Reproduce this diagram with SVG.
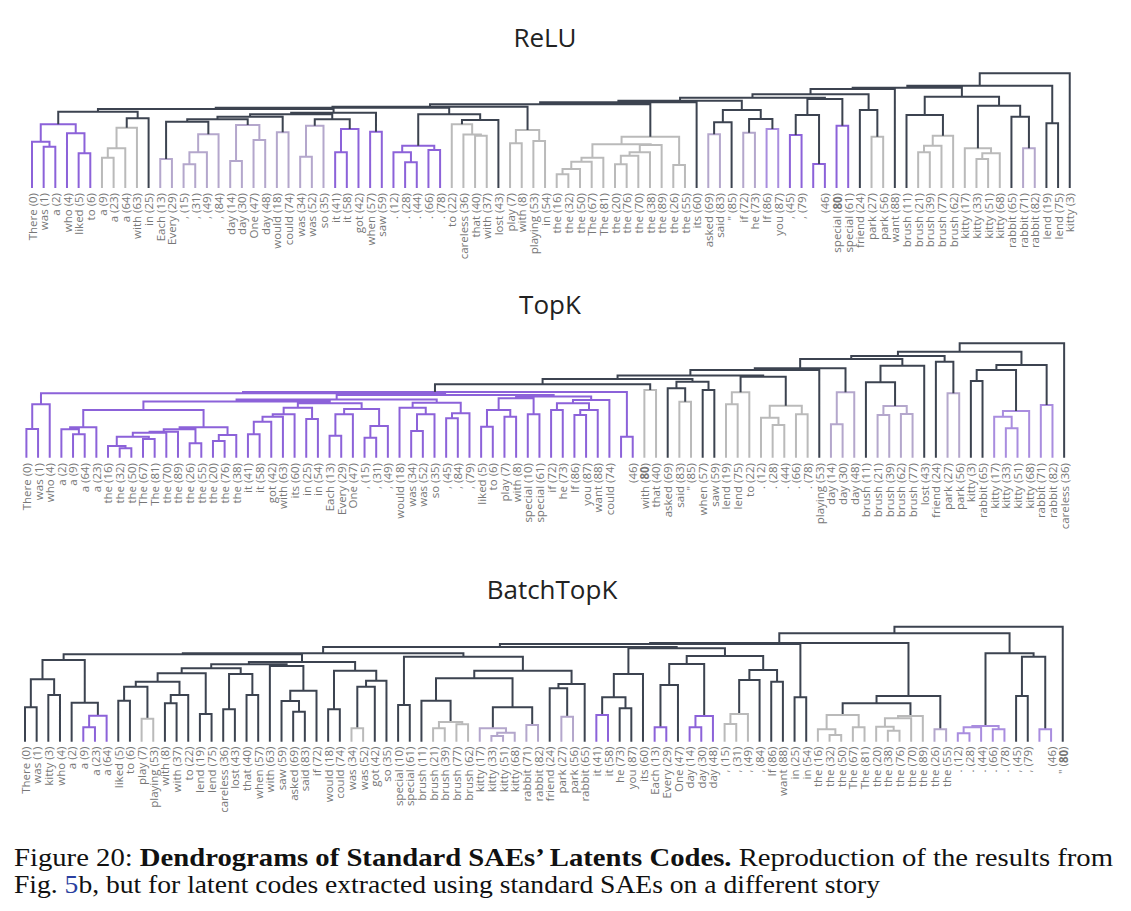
<svg xmlns="http://www.w3.org/2000/svg" width="1131" height="911" viewBox="0 0 1131 911">
<style>
.lb{font-family:"Open Sans",sans-serif;font-size:11.5px;fill:#767676;text-anchor:end;dominant-baseline:central}
.tt{font-family:"Open Sans",sans-serif;font-size:26px;font-weight:500;fill:#222;text-anchor:middle}
.cap{font-family:"Liberation Serif","Times New Roman",serif;font-size:25px;fill:#111}
path{fill:none;stroke-width:2}
.D{stroke:#3c4350}.P{stroke:#8c62d9}.P2{stroke:#a98ddf}.LP{stroke:#b4a7cc}.G{stroke:#bababa}
</style>
<rect width="1131" height="911" fill="#fff"/>
<text class="tt" x="545" y="47">ReLU</text>
<text class="tt" x="550" y="314">TopK</text>
<text class="tt" x="552" y="599">BatchTopK</text>

<g id="connectors">
<g id="relu-tree" transform="translate(32,0) scale(11.66,1)">
<path vector-effect="non-scaling-stroke" class="P" d="M1 188V146.7H2V188M0 188V141.7H1.5V146.7M4 188V153.3H5V188M3 188V133.3H4.5V153.3M0.75 141.7V124.3H3.75V133.3M26 188V152.3H27V188M26.5 152.3V129H28V188M29 188V131.7H30V188M32 188V162.3H33V188M31 188V152.3H32.5V162.3M34 188V150H35V188M31.75 152.3V145.7H34.5V150M65 188V135H66V188M67 188V164H68V188M69 188V125.7H70V188"/>
<path vector-effect="non-scaling-stroke" class="P2" d="M63 188V129H64V188"/>
<path vector-effect="non-scaling-stroke" class="LP" d="M11 188V159H12V188M13 188V164.3H14V188M13.5 164.3V152.3H15V188M14.25 152.3V134.3H16V188M17 188V161H18V188M19 188V140H20V188M17.5 161V125H19.5V140M21 188V132.3H22V188M23 188V156.7H24V188M23.5 156.7V125.7H25V188M58 188V134.3H59V188M61 188V132.7H62V188M85 188V148.3H86V188"/>
<path vector-effect="non-scaling-stroke" class="G" d="M6 188V157.7H7V188M6.5 157.7V148.3H8V188M7.25 148.3V127.7H9V188M38 188V135.7H39V188M37 188V134.5H38.5V135.7M36 188V124.3H37.75V134.5M41 188V143.3H42V188M43 188V141H44V188M41.5 143.3V130H43.5V141M45 188V174.3H46V188M45.5 174.3V169H47V188M46.25 169V161.7H48V188M47.125 161.7V157.7H49V188M50 188V164.3H51V188M50.5 164.3V155.7H52V188M51.25 155.7V152.3H53V188M52.125 152.3V145H54V188M48.0625 157.7V144.3H53.0625V145M55 188V165H56V188M50.5625 144.3V136.7H55.5V165M72 188V136.7H73V188M76 188V152.3H77V188M76.5 152.3V145.7H78V188M77.25 145.7V135.7H79V188M81 188V159H82V188M81.5 159V153.3H83V188M80 188V148.3H82.25V153.3"/>
<path vector-effect="non-scaling-stroke" class="D" d="M8.125 127.7V118.3H10V188M2.25 124.3V111.7H9.0625V118.3M11.5 159V121.7H15.125V134.3M13.3125 121.7V119.3H18.5V125M15.906 119.3V116.7H21.5V132.3M24.25 125.7V119.3H27.25V129M36.875 124.3V120H40V188M33.125 145.7V114.3H38.4375V120M58.5 134.3V122.3H60V188M61.5 132.7V119H63.5V129M59.25 122.3V110H62.5V119M65.5 135V115H67.5V164M71 188V110H72.5V136.7M75 188V115H78.125V135.7M84 188V116.7H85.5V148.3M81.125 148.3V105.7H84.75V116.7M76.5625 115V96.7H82.9375V105.7M87 188V123.3H88V188M18.703 116.7V114.3H25.75V119.3M22.227 114.3V112.7H29.5V131.7M5.656 111.7V109H25.863V112.7M15.76 109V107.7H35.78V114.3M25.77 107.7V106.7H42.5V130M34.135 106.7V104.3H53.03V136.7M43.58 104.3V102.3H57V188M50.29 102.3V100.7H60.875V110M66.5 115V99H69.5V125.7M55.58 100.7V97.7H68V99M61.79 97.7V94.3H71.75V110M66.77 94.3V89H74V188M70.385 89V87.7H79.75V96.7M75.07 87.7V85.7H87.5V123.3M81.28 85.7V73.3H89V188"/>
</g>

<g id="topk-tree" transform="translate(26.4,0) scale(11.66,1)">
<path vector-effect="non-scaling-stroke" class="P" d="M0 457.7V429H1V457.7M0.5 429V404.3H2V457.7M4 457.7V434.3H5V457.7M3 457.7V429.3H4.5V434.3M3.75 429.3V427.3H6V457.7M8 457.7V448.3H9V457.7M7 457.7V446H8.5V448.3M10 457.7V439H11V457.7M7.75 446V436.7H10.5V439M9.125 436.7V432.7H12V457.7M10.5625 432.7V431.7H13V457.7M14 457.7V443.3H15V457.7M11.78 431.7V429.3H14.5V443.3M16 457.7V441H17V457.7M16.5 441V435H18V457.7M13.14 429.3V427.3H17.25V435M4.875 427.3V410H15.195V427.3M19 457.7V434.3H20V457.7M19.5 434.3V421.7H21V457.7M20.25 421.7V416.7H22V457.7M21.125 416.7V414.3H23V457.7M24 457.7V419H25V457.7M22.0625 414.3V407.7H24.5V419M26 457.7V435.7H27V457.7M26.5 435.7V414.3H28V457.7M29 457.7V437.7H30V457.7M29.5 437.7V426H31V457.7M27.25 414.3V409H30.25V426M23.28 407.7V403.3H28.75V409M33 457.7V431H34V457.7M33.5 431V414.3H35V457.7M32 457.7V407.7H34.25V414.3M36 457.7V418.3H37V457.7M36.5 418.3V413.3H38V457.7M33.125 407.7V402.7H37.25V413.3M39 457.7V426.7H40V457.7M41 457.7V416.7H42V457.7M39.5 426.7V410H41.5V416.7M43 457.7V414.3H44V457.7M40.5 410V398.3H43.5V414.3M45 457.7V410H46V457.7M47 457.7V415H48V457.7M47.5 415V410H49V457.7M45.5 410V403.3H48.25V410M46.875 403.3V400H50V457.7M51 457.7V436.7H52V457.7M10.035 410V401.5H26.015V403.3M18.025 401.5V399.5H35.19V402.7M42 398.3V396.5H48.4375V400M26.61 399.5V395H45.22V396.5M1.25 404.3V393.3H35.91V395M18.58 393.3V392H51.5V436.7"/>
<path vector-effect="non-scaling-stroke" class="G" d="M53 457.7V390H54V457.7M56 457.7V401.7H57V457.7M60 457.7V404.3H61V457.7M60.5 404.3V392.3H62V457.7M64 457.7V425H65V457.7M63 457.7V417.7H64.5V425M66 457.7V414.3H67V457.7M63.75 417.7V405.7H66.5V414.3"/>
<path vector-effect="non-scaling-stroke" class="LP" d="M69 457.7V424.3H70V457.7M69.5 424.3V392.3H71V457.7M73 457.7V415H74V457.7M75 457.7V414H76V457.7M73.5 415V406H75.5V414M79 457.7V393.3H80V457.7"/>
<path vector-effect="non-scaling-stroke" class="P2" d="M84 457.7V428.3H85V457.7M83 457.7V416.7H84.5V428.3M83.75 416.7V411H86V457.7M87 457.7V405H88V457.7"/>
<path vector-effect="non-scaling-stroke" class="D" d="M55 457.7V388.3H56.5V401.7M58 457.7V390H59V457.7M55.75 388.3V381.7H58.5V390M35.04 392V384.3H53.5V390M44.27 384.3V379H57.125V381.7M61.25 392.3V376.7H65.125V405.7M50.7 379V375.5H63.19V376.7M56.945 375.5V370H68V457.7M62.47 370V368.3H70.25V392.3M72 457.7V382.3H74.5V406M73.25 382.3V365.7H77V457.7M66.36 368.3V359H75.125V365.7M78 457.7V361.7H79.5V393.3M70.74 359V356H78.75V361.7M81 457.7V381H82V457.7M81.5 381V370H84.875V411M83.19 370V365H87.5V405M74.745 356V351.7H85.34V365M80.04 351.7V343.3H89V457.7"/>
</g>

<g id="batchtopk-tree" transform="translate(25,0) scale(11.66,1)">
<path vector-effect="non-scaling-stroke" class="D" d="M0 741.7V707.3H1V741.7M2 741.7V695H3V741.7M0.5 707.3V679.3H2.5V695M4 741.7V702.7H6.25V715.7M1.5 679.3V660H5.125V702.7M8 741.7V700.7H9V741.7M8.5 700.7V686.7H10.5V718.7M12 741.7V703.3H13V741.7M12.5 703.3V695H14V741.7M9.5 686.7V681.7H13.25V695M15 741.7V714H16V741.7M11.375 681.7V673.3H15.5V714M17 741.7V709.3H18V741.7M19 741.7V695H20V741.7M17.5 709.3V674H19.5V695M13.4375 673.3V668.3H18.5V674M23 741.7V711.7H24V741.7M22 741.7V701H23.5V711.7M22.75 701V690.7H25V741.7M21 741.7V666H23.875V690.7M15.97 668.3V664.3H22.4375V666M26 741.7V709.3H27V741.7M28.5 728.3V686.7H30V741.7M29.25 686.7V680.7H31V741.7M26.5 709.3V670.7H30.125V680.7M19.2 664.3V662H28.3125V670.7M3.3125 660V654.3H23.756V662M32 741.7V705H33V741.7M34 741.7V700.7H36.5V722M40.125 728.3V707.3H43.5V725M35.25 700.7V678.3H41.8125V707.3M45 741.7V688.3H46.5V716.7M45.75 688.3V684H48V741.7M38.53 678.3V670.7H46.875V684M32.5 705V656.7H42.7V670.7M13.534 654.3V653.3H37.6V656.7M51 741.7V708.3H52V741.7M49.5 715V697.3H51.5V708.3M50.5 697.3V674H53V741.7M54.5 727.3V685H56V741.7M55.25 685V664H58.25V716M61.25 714V680H63V741.7M64 741.7V681.7H65V741.7M62.125 680V670H64.5V681.7M56.75 664V656H63.31V670M51.75 674V648.3H60.03V656M25.567 653.3V647H55.89V648.3M66 741.7V697.3H67V741.7M40.73 647V644H66.5V697.3M70.125 715V703.3H75.94V716M73.03 703.3V696H78.5V729.3M53.615 644V643H75.77V696M85 741.7V696H86V741.7M85.5 696V656.7H87.5V729.3M82.375 726V653.3H86.5V656.7M64.69 643V633.3H84.44V653.3M74.565 633.3V626.7H89V741.7"/>
<path vector-effect="non-scaling-stroke" class="P" d="M5 741.7V727.3H6V741.7M5.5 727.3V715.7H7V741.7M49 741.7V715H50V741.7M54 741.7V727.3H55V741.7M57 741.7V727.3H58V741.7M57.5 727.3V716H59V741.7"/>
<path vector-effect="non-scaling-stroke" class="G" d="M10 741.7V718.7H11V741.7M28 741.7V728.3H29V741.7M35 741.7V728.3H36V741.7M37 741.7V724.3H38V741.7M35.5 728.3V722H37.5V724.3M60 741.7V724H61V741.7M60.5 724V714H62V741.7M69 741.7V735H70V741.7M68 741.7V729.3H69.5V735M71 741.7V727.3H72V741.7M68.75 729.3V715H71.5V727.3M74 741.7V730.7H75V741.7M73 741.7V726.7H74.5V730.7M73.75 726.7V718.3H76V741.7M74.875 718.3V716H77V741.7"/>
<path vector-effect="non-scaling-stroke" class="LP" d="M40 741.7V736H41V741.7M40.5 736V732.7H42V741.7M39 741.7V728.3H41.25V732.7M43 741.7V725H44V741.7M46 741.7V716.7H47V741.7M78 741.7V729.3H79V741.7"/>
<path vector-effect="non-scaling-stroke" class="P2" d="M80 741.7V733.3H81V741.7M80.5 733.3V727.3H82V741.7M83 741.7V729.3H84V741.7M81.25 727.3V726H83.5V729.3M87 741.7V729.3H88V741.7"/>
</g>
</g>

<g id="relu-leaves" transform="translate(32,193) rotate(-90)">
<text class="lb" y="0">There (0)</text><text class="lb" y="11.7">was (1)</text><text class="lb" y="23.3">a (2)</text><text class="lb" y="35">who (4)</text><text class="lb" y="46.6">liked (5)</text><text class="lb" y="58.3">to (6)</text><text class="lb" y="70">a (9)</text><text class="lb" y="81.6">a (23)</text><text class="lb" y="93.3">a (64)</text><text class="lb" y="104.9">with (63)</text><text class="lb" y="116.6">in (25)</text><text class="lb" y="128.3">Each (13)</text><text class="lb" y="139.9">Every (29)</text><text class="lb" y="151.6">, (15)</text><text class="lb" y="163.2">, (31)</text><text class="lb" y="174.9">, (49)</text><text class="lb" y="186.6">, (84)</text><text class="lb" y="198.2">day (14)</text><text class="lb" y="209.9">day (30)</text><text class="lb" y="221.5">One (47)</text><text class="lb" y="233.2">day (48)</text><text class="lb" y="244.9">would (18)</text><text class="lb" y="256.5">could (74)</text><text class="lb" y="268.2">was (34)</text><text class="lb" y="279.8">was (52)</text><text class="lb" y="291.5">so (35)</text><text class="lb" y="303.2">it (41)</text><text class="lb" y="314.8">it (58)</text><text class="lb" y="326.5">got (42)</text><text class="lb" y="338.1">when (57)</text><text class="lb" y="349.8">saw (59)</text><text class="lb" y="361.5">. (12)</text><text class="lb" y="373.1">. (28)</text><text class="lb" y="384.8">. (44)</text><text class="lb" y="396.4">. (66)</text><text class="lb" y="408.1">. (78)</text><text class="lb" y="419.8">to (22)</text><text class="lb" y="431.4">careless (36)</text><text class="lb" y="443.1">that (40)</text><text class="lb" y="454.7">with (37)</text><text class="lb" y="466.4">lost (43)</text><text class="lb" y="478.1">play (7)</text><text class="lb" y="489.7">with (8)</text><text class="lb" y="501.4">playing (53)</text><text class="lb" y="513">in (54)</text><text class="lb" y="524.7">the (16)</text><text class="lb" y="536.4">the (32)</text><text class="lb" y="548">the (50)</text><text class="lb" y="559.7">The (67)</text><text class="lb" y="571.3">The (81)</text><text class="lb" y="583">the (20)</text><text class="lb" y="594.7">the (76)</text><text class="lb" y="606.3">the (70)</text><text class="lb" y="618">the (38)</text><text class="lb" y="629.6">the (89)</text><text class="lb" y="641.3">the (26)</text><text class="lb" y="653">the (55)</text><text class="lb" y="664.6">its (60)</text><text class="lb" y="676.3">asked (69)</text><text class="lb" y="687.9">said (83)</text><text class="lb" y="699.6">" (85)</text><text class="lb" y="711.3">if (72)</text><text class="lb" y="722.9">he (73)</text><text class="lb" y="734.6">If (86)</text><text class="lb" y="746.2">you (87)</text><text class="lb" y="757.9">, (45)</text><text class="lb" y="769.6">, (79)</text><text class="lb" y="792.9">(46)</text><text class="lb" y="804.5">special (<tspan font-weight="700">80</tspan>)</text><text class="lb" y="816.2">special (61)</text><text class="lb" y="827.9">friend (24)</text><text class="lb" y="839.5">park (27)</text><text class="lb" y="851.2">park (56)</text><text class="lb" y="862.8">want (88)</text><text class="lb" y="874.5">brush (11)</text><text class="lb" y="886.2">brush (21)</text><text class="lb" y="897.8">brush (39)</text><text class="lb" y="909.5">brush (77)</text><text class="lb" y="921.1">brush (62)</text><text class="lb" y="932.8">kitty (17)</text><text class="lb" y="944.5">kitty (33)</text><text class="lb" y="956.1">kitty (51)</text><text class="lb" y="967.8">kitty (68)</text><text class="lb" y="979.4">rabbit (65)</text><text class="lb" y="991.1">rabbit (71)</text><text class="lb" y="1002.8">rabbit (82)</text><text class="lb" y="1014.4">lend (19)</text><text class="lb" y="1026.1">lend (75)</text><text class="lb" y="1037.7">kitty (3)</text>
</g>

<g id="topk-leaves" transform="translate(26.4,463) rotate(-90)">
<text class="lb" y="0">There (0)</text><text class="lb" y="11.7">was (1)</text><text class="lb" y="23.3">who (4)</text><text class="lb" y="35">a (2)</text><text class="lb" y="46.6">a (9)</text><text class="lb" y="58.3">a (64)</text><text class="lb" y="70">a (23)</text><text class="lb" y="81.6">the (16)</text><text class="lb" y="93.3">the (32)</text><text class="lb" y="104.9">the (50)</text><text class="lb" y="116.6">The (67)</text><text class="lb" y="128.3">The (81)</text><text class="lb" y="139.9">the (70)</text><text class="lb" y="151.6">the (89)</text><text class="lb" y="163.2">the (26)</text><text class="lb" y="174.9">the (55)</text><text class="lb" y="186.6">the (20)</text><text class="lb" y="198.2">the (76)</text><text class="lb" y="209.9">the (38)</text><text class="lb" y="221.5">it (41)</text><text class="lb" y="233.2">it (58)</text><text class="lb" y="244.9">got (42)</text><text class="lb" y="256.5">with (63)</text><text class="lb" y="268.2">its (60)</text><text class="lb" y="279.8">in (25)</text><text class="lb" y="291.5">in (54)</text><text class="lb" y="303.2">Each (13)</text><text class="lb" y="314.8">Every (29)</text><text class="lb" y="326.5">One (47)</text><text class="lb" y="338.1">, (15)</text><text class="lb" y="349.8">, (31)</text><text class="lb" y="361.5">, (49)</text><text class="lb" y="373.1">would (18)</text><text class="lb" y="384.8">was (34)</text><text class="lb" y="396.4">was (52)</text><text class="lb" y="408.1">so (35)</text><text class="lb" y="419.8">, (45)</text><text class="lb" y="431.4">, (84)</text><text class="lb" y="443.1">, (79)</text><text class="lb" y="454.7">liked (5)</text><text class="lb" y="466.4">to (6)</text><text class="lb" y="478.1">play (7)</text><text class="lb" y="489.7">with (8)</text><text class="lb" y="501.4">special (10)</text><text class="lb" y="513">special (61)</text><text class="lb" y="524.7">if (72)</text><text class="lb" y="536.4">he (73)</text><text class="lb" y="548">If (86)</text><text class="lb" y="559.7">you (87)</text><text class="lb" y="571.3">want (88)</text><text class="lb" y="583">could (74)</text><text class="lb" y="606.3">(46)</text><text class="lb" y="618">with (<tspan font-weight="700">80</tspan>)</text><text class="lb" y="629.6">that (40)</text><text class="lb" y="641.3">asked (69)</text><text class="lb" y="653">said (83)</text><text class="lb" y="664.6">" (85)</text><text class="lb" y="676.3">when (57)</text><text class="lb" y="687.9">saw (59)</text><text class="lb" y="699.6">lend (19)</text><text class="lb" y="711.3">lend (75)</text><text class="lb" y="722.9">to (22)</text><text class="lb" y="734.6">. (12)</text><text class="lb" y="746.2">. (28)</text><text class="lb" y="757.9">. (44)</text><text class="lb" y="769.6">. (66)</text><text class="lb" y="781.2">. (78)</text><text class="lb" y="792.9">playing (53)</text><text class="lb" y="804.5">day (14)</text><text class="lb" y="816.2">day (30)</text><text class="lb" y="827.9">day (48)</text><text class="lb" y="839.5">brush (11)</text><text class="lb" y="851.2">brush (21)</text><text class="lb" y="862.8">brush (39)</text><text class="lb" y="874.5">brush (62)</text><text class="lb" y="886.2">brush (77)</text><text class="lb" y="897.8">lost (43)</text><text class="lb" y="909.5">friend (24)</text><text class="lb" y="921.1">park (27)</text><text class="lb" y="932.8">park (56)</text><text class="lb" y="944.5">kitty (3)</text><text class="lb" y="956.1">rabbit (65)</text><text class="lb" y="967.8">kitty (17)</text><text class="lb" y="979.4">kitty (33)</text><text class="lb" y="991.1">kitty (51)</text><text class="lb" y="1002.8">kitty (68)</text><text class="lb" y="1014.4">rabbit (71)</text><text class="lb" y="1026.1">rabbit (82)</text><text class="lb" y="1037.7">careless (36)</text>
</g>

<g id="batchtopk-leaves" transform="translate(25,746.5) rotate(-90)">
<text class="lb" y="0">There (0)</text><text class="lb" y="11.7">was (1)</text><text class="lb" y="23.3">kitty (3)</text><text class="lb" y="35">who (4)</text><text class="lb" y="46.6">a (2)</text><text class="lb" y="58.3">a (9)</text><text class="lb" y="70">a (23)</text><text class="lb" y="81.6">a (64)</text><text class="lb" y="93.3">liked (5)</text><text class="lb" y="104.9">to (6)</text><text class="lb" y="116.6">play (7)</text><text class="lb" y="128.3">playing (53)</text><text class="lb" y="139.9">with (8)</text><text class="lb" y="151.6">with (37)</text><text class="lb" y="163.2">to (22)</text><text class="lb" y="174.9">lend (19)</text><text class="lb" y="186.6">lend (75)</text><text class="lb" y="198.2">careless (36)</text><text class="lb" y="209.9">lost (43)</text><text class="lb" y="221.5">that (40)</text><text class="lb" y="233.2">when (57)</text><text class="lb" y="244.9">with (63)</text><text class="lb" y="256.5">saw (59)</text><text class="lb" y="268.2">asked (69)</text><text class="lb" y="279.8">said (83)</text><text class="lb" y="291.5">if (72)</text><text class="lb" y="303.2">would (18)</text><text class="lb" y="314.8">could (74)</text><text class="lb" y="326.5">was (34)</text><text class="lb" y="338.1">was (52)</text><text class="lb" y="349.8">got (42)</text><text class="lb" y="361.5">so (35)</text><text class="lb" y="373.1">special (10)</text><text class="lb" y="384.8">special (61)</text><text class="lb" y="396.4">brush (11)</text><text class="lb" y="408.1">brush (21)</text><text class="lb" y="419.8">brush (39)</text><text class="lb" y="431.4">brush (77)</text><text class="lb" y="443.1">brush (62)</text><text class="lb" y="454.7">kitty (17)</text><text class="lb" y="466.4">kitty (33)</text><text class="lb" y="478.1">kitty (51)</text><text class="lb" y="489.7">kitty (68)</text><text class="lb" y="501.4">rabbit (71)</text><text class="lb" y="513">rabbit (82)</text><text class="lb" y="524.7">friend (24)</text><text class="lb" y="536.4">park (27)</text><text class="lb" y="548">park (56)</text><text class="lb" y="559.7">rabbit (65)</text><text class="lb" y="571.3">it (41)</text><text class="lb" y="583">it (58)</text><text class="lb" y="594.7">he (73)</text><text class="lb" y="606.3">you (87)</text><text class="lb" y="618">its (60)</text><text class="lb" y="629.6">Each (13)</text><text class="lb" y="641.3">Every (29)</text><text class="lb" y="653">One (47)</text><text class="lb" y="664.6">day (14)</text><text class="lb" y="676.3">day (30)</text><text class="lb" y="687.9">day (48)</text><text class="lb" y="699.6">, (15)</text><text class="lb" y="711.3">, (31)</text><text class="lb" y="722.9">, (49)</text><text class="lb" y="734.6">, (84)</text><text class="lb" y="746.2">If (86)</text><text class="lb" y="757.9">want (88)</text><text class="lb" y="769.6">in (25)</text><text class="lb" y="781.2">in (54)</text><text class="lb" y="792.9">the (16)</text><text class="lb" y="804.5">the (32)</text><text class="lb" y="816.2">the (50)</text><text class="lb" y="827.9">The (67)</text><text class="lb" y="839.5">The (81)</text><text class="lb" y="851.2">the (20)</text><text class="lb" y="862.8">the (38)</text><text class="lb" y="874.5">the (76)</text><text class="lb" y="886.2">the (70)</text><text class="lb" y="897.8">the (89)</text><text class="lb" y="909.5">the (26)</text><text class="lb" y="921.1">the (55)</text><text class="lb" y="932.8">. (12)</text><text class="lb" y="944.5">. (28)</text><text class="lb" y="956.1">. (44)</text><text class="lb" y="967.8">. (66)</text><text class="lb" y="979.4">. (78)</text><text class="lb" y="991.1">, (45)</text><text class="lb" y="1002.8">, (79)</text><text class="lb" y="1026.1">(46)</text><text class="lb" y="1037.7">" (<tspan font-weight="700">80</tspan>)</text>
</g>

<g id="caption">
<text class="cap" x="14" y="866" textLength="1099" lengthAdjust="spacingAndGlyphs">Figure 20: <tspan font-weight="700">Dendrograms of Standard SAEs’ Latents Codes.</tspan> Reproduction of the results from</text>
<text class="cap" x="14" y="893" textLength="866" lengthAdjust="spacingAndGlyphs">Fig. <tspan fill="#2a3fa0">5</tspan>b, but for latent codes extracted using standard SAEs on a different story</text>
</g>
</svg>
